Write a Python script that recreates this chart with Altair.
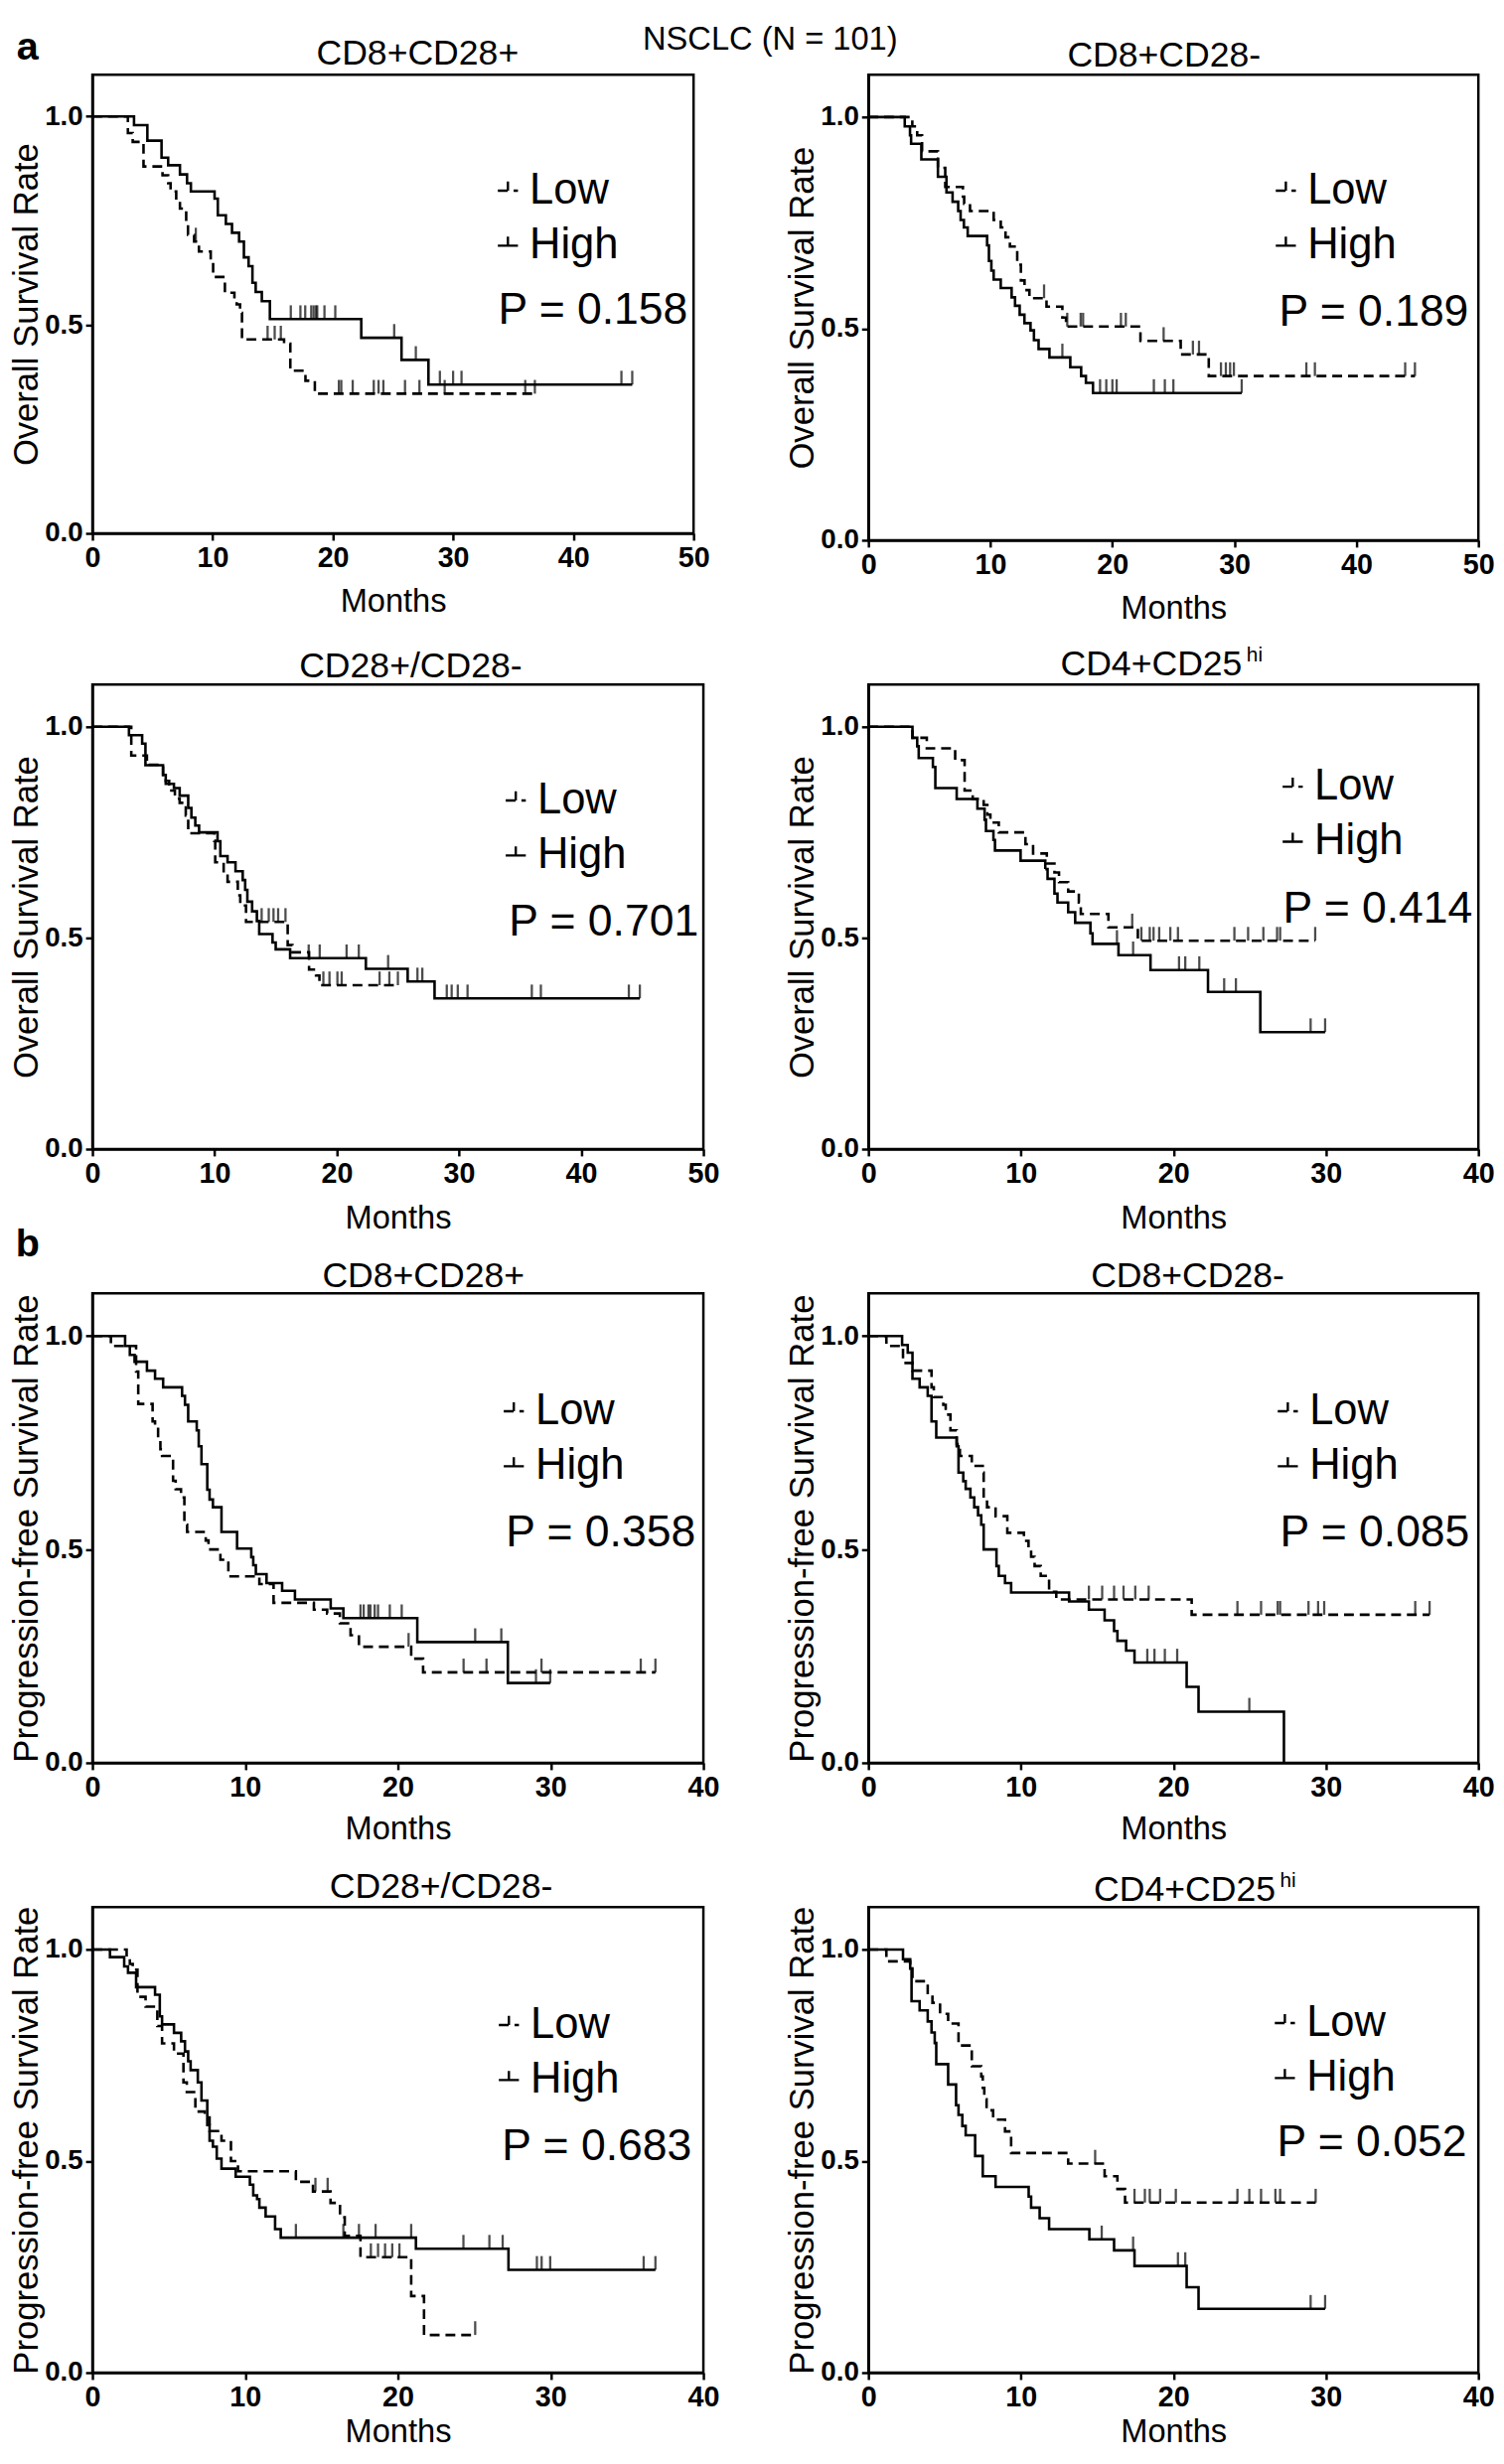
import altair as alt
import pandas as pd

# ---------------- data ----------------
FIGURE_TITLE = "NSCLC (N = 101)"
PANELS = ["a1", "a2", "a3", "a4", "b1", "b2", "b3", "b4"]
PANEL_TITLES = ["CD8+CD28+", "CD8+CD28-", "CD28+/CD28-", "CD4+CD25",
                "CD8+CD28+", "CD8+CD28-", "CD28+/CD28-", "CD4+CD25"]
TITLE_SUPERSCRIPTS = ["", "", "", "hi", "", "", "", "hi"]
SECTION_LABELS = ["a", "", "", "", "b", "", "", ""]
Y_TITLES = ["Overall Survival Rate"] * 4 + ["Progression-free Survival Rate"] * 4
X_TITLE = "Months"
X_MAX = [50, 50, 50, 40, 40, 40, 40, 40]
X_STEP = 10
Y_TICKS = [0.0, 0.5, 1.0]
P_VALUES = ["P = 0.158", "P = 0.189", "P = 0.701", "P = 0.414",
            "P = 0.358", "P = 0.085", "P = 0.683", "P = 0.052"]
GROUPS = ["Low", "High"]

# --- a: overall survival ---
A1_HIGH_T = [0, 3.46, 4.57, 5.75, 6.30, 7.28, 7.87, 8.19, 10.16, 10.43, 11.10, 11.61, 12.20, 12.60, 12.99,
             13.31, 13.58, 14.09, 14.76, 22.36, 25.71, 27.95, 44.9]
A1_HIGH_S = [1.0, 0.979, 0.942, 0.901, 0.883, 0.861, 0.840, 0.820, 0.803, 0.763, 0.742, 0.721, 0.700, 0.662, 0.641,
             0.601, 0.579, 0.557, 0.514, 0.469, 0.416, 0.357, 0.357]
A1_HIGH_C = [16.5, 17.3, 17.7, 18.2, 18.4, 18.6, 18.7, 19.3, 20.2, 25.1, 26.9, 28.9, 30.0, 30.7, 44.0, 44.9]
A1_LOW_T = [0, 2.95, 3.35, 4.25, 5.83, 6.30, 6.50, 6.97, 7.28, 7.80, 7.95, 8.46, 8.86, 9.84, 10.04, 11.02,
            11.81, 12.00, 12.28, 12.44, 15.94, 16.46, 17.72, 18.50, 36.8]
A1_LOW_S = [1.0, 0.960, 0.939, 0.880, 0.859, 0.840, 0.820, 0.798, 0.779, 0.742, 0.716, 0.700, 0.676, 0.653, 0.615,
            0.577, 0.563, 0.549, 0.529, 0.465, 0.455, 0.390, 0.366, 0.335, 0.335]
A1_LOW_C = [8.6, 14.57, 15.16, 15.67, 20.5, 20.7, 21.65, 23.4, 23.8, 24.2, 26.0, 27.2, 29.3, 36.0, 36.8]

A2_HIGH_T = [0, 2.98, 3.41, 3.50, 4.34, 5.70, 6.40, 6.90, 7.36, 7.56, 7.83, 8.14, 9.73, 9.88, 10.08, 10.27,
             10.85, 11.74, 12.02, 12.40, 12.79, 13.29, 13.57, 13.95, 14.84, 16.55, 17.44, 17.83, 18.41, 30.6]
A2_HIGH_S = [1.0, 0.978, 0.957, 0.937, 0.900, 0.859, 0.822, 0.800, 0.778, 0.757, 0.739, 0.719, 0.697, 0.660, 0.637,
             0.616, 0.596, 0.574, 0.554, 0.533, 0.513, 0.496, 0.473, 0.452, 0.432, 0.409, 0.388, 0.372, 0.348, 0.348]
A2_HIGH_C = [15.9, 18.99, 19.5, 20.0, 20.35, 23.4, 24.3, 25.0, 30.6]
A2_LOW_T = [0, 3.6, 4.0, 4.4, 5.7, 6.3, 7.75, 7.85, 8.33, 10.27, 10.85, 11.24, 11.6, 12.2, 12.5, 12.8,
            13.2, 14.6, 15.9, 16.2, 22.3, 25.6, 27.9, 44.8]
A2_LOW_S = [1.0, 0.978, 0.957, 0.919, 0.880, 0.835, 0.812, 0.795, 0.778, 0.757, 0.739, 0.716, 0.694, 0.651, 0.614,
            0.591, 0.572, 0.552, 0.526, 0.505, 0.471, 0.439, 0.388, 0.388]
A2_LOW_C = [14.4, 16.3, 17.4, 17.6, 20.7, 21.1, 24.2, 26.6, 27.1, 28.9, 29.3, 29.65, 29.96, 35.9, 36.6, 44.0, 44.8]

A3_HIGH_T = [0, 2.99, 4.07, 4.34, 5.78, 6.0, 6.67, 7.14, 7.84, 8.1, 8.42, 8.73, 10.24, 10.47, 11.06, 11.71,
             12.3, 12.5, 12.68, 13.07, 13.46, 13.65, 14.74, 15.0, 16.18, 22.38, 25.8, 28.0, 44.8]
A3_HIGH_S = [1.0, 0.98, 0.96, 0.909, 0.886, 0.865, 0.855, 0.837, 0.808, 0.785, 0.766, 0.75, 0.729, 0.694, 0.679,
             0.658, 0.637, 0.614, 0.586, 0.563, 0.54, 0.509, 0.489, 0.473, 0.452, 0.427, 0.397, 0.357, 0.357]
A3_HIGH_C = [17.7, 18.6, 20.8, 21.8, 24.2, 26.6, 27.0, 29.0, 29.4, 29.9, 30.7, 35.96, 36.7, 43.9, 44.8]
A3_LOW_T = [0, 3.18, 4.46, 5.78, 6.0, 6.28, 6.75, 7.14, 7.64, 7.84, 9.97, 10.05, 10.74, 11.06, 11.9, 12.1,
            12.57, 15.98, 16.37, 17.73, 18.3, 18.58, 25.0]
A3_LOW_S = [1.0, 0.932, 0.91, 0.886, 0.872, 0.849, 0.83, 0.82, 0.79, 0.748, 0.73, 0.679, 0.653, 0.633, 0.601,
            0.577, 0.538, 0.483, 0.466, 0.425, 0.411, 0.388, 0.388]
A3_LOW_C = [13.85, 14.43, 14.82, 15.2, 15.8, 18.9, 19.4, 20.05, 20.4, 23.5, 24.3, 25.0]

A4_HIGH_T = [0, 2.89, 3.2, 3.3, 4.23, 4.39, 5.79, 7.15, 7.62, 7.71, 8.2, 8.3, 9.98, 11.6, 11.75, 12.2, 12.4,
             13.1, 13.56, 14.56, 14.7, 16.4, 18.5, 22.27, 25.7, 29.95]
A4_HIGH_S = [1.0, 0.974, 0.954, 0.926, 0.905, 0.855, 0.829, 0.806, 0.78, 0.753, 0.732, 0.707, 0.683, 0.663, 0.64,
             0.605, 0.584, 0.561, 0.536, 0.511, 0.486, 0.459, 0.424, 0.372, 0.277, 0.277]
A4_HIGH_C = [16.3, 17.36, 20.37, 20.78, 21.7, 23.33, 24.1, 29.0, 29.95]
A4_LOW_T = [0, 2.89, 3.83, 5.69, 6.31, 6.84, 7.56, 7.8, 8.0, 8.55, 10.3, 10.8, 11.7, 12.2, 12.5, 13.1, 13.8,
            13.93, 15.74, 17.67, 29.3]
A4_LOW_S = [1.0, 0.974, 0.949, 0.921, 0.849, 0.829, 0.815, 0.792, 0.773, 0.75, 0.722, 0.70, 0.676, 0.655, 0.632,
            0.61, 0.584, 0.557, 0.525, 0.4935, 0.4935]
A4_LOW_C = [17.3, 17.9, 18.45, 18.7, 19.07, 19.8, 20.3, 24.0, 24.9, 25.9, 26.8, 27.0, 29.3]

# --- b: progression-free survival ---
B1_HIGH_T = [0, 2.14, 2.45, 2.76, 3.57, 4.10, 4.63, 5.87, 6.06, 6.27, 6.83, 6.96, 7.14, 7.52, 7.67, 7.89, 8.45,
             9.47, 10.40, 10.53, 10.70, 11.40, 12.42, 13.26, 15.60, 16.43, 21.27, 27.20, 29.97]
B1_HIGH_S = [1.0, 0.977, 0.956, 0.940, 0.919, 0.900, 0.880, 0.860, 0.839, 0.800, 0.779, 0.742, 0.700, 0.640, 0.617,
             0.599, 0.541, 0.502, 0.482, 0.463, 0.442, 0.421, 0.403, 0.383, 0.362, 0.339, 0.283, 0.187, 0.187]
B1_HIGH_C = [17.55, 17.76, 18.07, 18.2, 18.48, 18.7, 19.47, 20.25, 25.06, 26.77, 29.04, 29.97]
B1_LOW_T = [0, 1.21, 2.86, 3.0, 3.94, 4.1, 4.3, 4.45, 4.56, 5.28, 5.45, 5.8, 6.02, 6.2, 7.42, 7.6, 8.38, 8.9,
            10.93, 11.86, 14.5, 15.37, 16.2, 16.9, 17.45, 20.87, 21.65, 36.86]
B1_LOW_S = [1.0, 0.977, 0.917, 0.841, 0.80, 0.788, 0.76, 0.735, 0.719, 0.661, 0.641, 0.622, 0.558, 0.541, 0.521,
            0.50, 0.476, 0.437, 0.419, 0.375, 0.359, 0.35, 0.327, 0.299, 0.272, 0.244, 0.212, 0.212]
B1_LOW_C = [20.7, 24.3, 25.8, 29.4, 35.9, 36.86]

B2_HIGH_T = [0, 2.21, 2.58, 2.89, 3.36, 3.89, 4.14, 4.45, 5.79, 5.91, 6.22, 6.38, 6.69, 6.94, 7.19, 7.40, 7.56,
             8.40, 8.55, 8.96, 9.36, 13.16, 14.46, 15.49, 16.11, 16.33, 16.90, 17.45, 20.87, 21.65, 27.25]
B2_HIGH_S = [1.0, 0.979, 0.961, 0.900, 0.880, 0.860, 0.800, 0.762, 0.742, 0.680, 0.660, 0.642, 0.622, 0.599, 0.580,
             0.558, 0.500, 0.461, 0.438, 0.421, 0.399, 0.378, 0.359, 0.334, 0.309, 0.286, 0.263, 0.235, 0.178, 0.120, 0.0]
B2_HIGH_C = [18.29, 18.76, 19.44, 20.25, 24.98]
B2_LOW_T = [0, 1.18, 2.27, 2.89, 4.14, 4.29, 4.91, 5.07, 5.38, 5.79, 6.0, 6.78, 7.5, 7.56, 7.78, 8.34, 9.11,
            10.2, 10.5, 10.67, 10.9, 11.3, 11.85, 12.32, 21.2, 36.8]
B2_LOW_S = [1.0, 0.977, 0.937, 0.919, 0.88, 0.857, 0.839, 0.816, 0.779, 0.747, 0.719, 0.696, 0.68, 0.62, 0.599,
            0.578, 0.539, 0.52, 0.50, 0.483, 0.461, 0.438, 0.401, 0.383, 0.347, 0.347]
B2_LOW_C = [14.46, 15.33, 16.11, 16.73, 17.5, 18.38, 24.2, 25.75, 26.84, 27.0, 28.86, 29.49, 29.89, 35.86, 36.8]

B3_HIGH_T = [0, 1.15, 2.08, 2.33, 2.86, 4.10, 4.41, 4.56, 5.34, 5.81, 6.06, 6.27, 6.43, 6.90, 7.14, 7.52, 7.67,
             7.89, 8.14, 8.45, 9.38, 10.31, 10.53, 10.78, 10.93, 11.34, 11.96, 12.33, 21.18, 27.24, 36.86]
B3_HIGH_S = [1.0, 0.982, 0.96, 0.945, 0.911, 0.893, 0.842, 0.823, 0.803, 0.783, 0.759, 0.736, 0.715, 0.686, 0.643,
             0.585, 0.548, 0.534, 0.506, 0.482, 0.463, 0.444, 0.419, 0.41, 0.39, 0.369, 0.339, 0.319, 0.293, 0.243, 0.243]
B3_HIGH_C = [13.32, 16.43, 17.45, 18.54, 20.87, 24.29, 25.99, 26.86, 29.1, 29.41, 29.97, 36.09, 36.86]
B3_LOW_T = [0, 2.24, 2.45, 2.64, 2.95, 3.48, 4.25, 4.56, 5.34, 5.96, 6.18, 6.74, 7.36, 7.67, 8.45, 9.07, 9.53,
            13.32, 14.44, 15.59, 16.21, 16.52, 17.55, 20.87, 21.71, 25.06]
B3_LOW_S = [1.0, 0.98, 0.966, 0.952, 0.888, 0.865, 0.819, 0.778, 0.754, 0.686, 0.663, 0.617, 0.603, 0.571, 0.548,
            0.50, 0.476, 0.451, 0.428, 0.401, 0.367, 0.323, 0.273, 0.181, 0.089, 0.089]
B3_LOW_C = [14.6, 15.4, 18.23, 18.7, 19.16, 19.63, 20.1, 25.06]

B4_HIGH_T = [0, 2.27, 2.74, 2.83, 3.36, 3.89, 4.14, 4.35, 4.45, 5.23, 5.75, 5.91, 6.16, 6.38, 7.0, 7.5, 8.34,
             10.51, 10.67, 11.23, 11.85, 14.49, 16.11, 17.45, 20.87, 21.65, 29.95]
B4_HIGH_S = [1.0, 0.977, 0.955, 0.878, 0.856, 0.83, 0.804, 0.779, 0.729, 0.681, 0.632, 0.609, 0.583, 0.561, 0.512,
             0.464, 0.439, 0.416, 0.39, 0.365, 0.339, 0.315, 0.289, 0.252, 0.202, 0.151, 0.151]
B4_HIGH_C = [15.3, 17.36, 20.3, 20.78, 29.0, 29.95]
B4_LOW_T = [0, 1.18, 2.74, 2.89, 3.89, 4.2, 4.7, 5.23, 5.91, 6.78, 7.4, 7.5, 7.6, 7.75, 8.18, 8.96, 9.36, 13.1,
            15.49, 16.33, 16.83, 29.33]
B4_LOW_S = [1.0, 0.972, 0.955, 0.925, 0.894, 0.874, 0.848, 0.825, 0.773, 0.724, 0.70, 0.673, 0.646, 0.62, 0.598,
            0.57, 0.519, 0.494, 0.464, 0.434, 0.402, 0.402]
B4_LOW_C = [14.87, 17.45, 18.13, 18.45, 19.13, 20.16, 24.2, 24.98, 25.75, 26.69, 27.0, 29.33]

SERIES = {
    ("a1", "High"): (A1_HIGH_T, A1_HIGH_S, A1_HIGH_C), ("a1", "Low"): (A1_LOW_T, A1_LOW_S, A1_LOW_C),
    ("a2", "High"): (A2_HIGH_T, A2_HIGH_S, A2_HIGH_C), ("a2", "Low"): (A2_LOW_T, A2_LOW_S, A2_LOW_C),
    ("a3", "High"): (A3_HIGH_T, A3_HIGH_S, A3_HIGH_C), ("a3", "Low"): (A3_LOW_T, A3_LOW_S, A3_LOW_C),
    ("a4", "High"): (A4_HIGH_T, A4_HIGH_S, A4_HIGH_C), ("a4", "Low"): (A4_LOW_T, A4_LOW_S, A4_LOW_C),
    ("b1", "High"): (B1_HIGH_T, B1_HIGH_S, B1_HIGH_C), ("b1", "Low"): (B1_LOW_T, B1_LOW_S, B1_LOW_C),
    ("b2", "High"): (B2_HIGH_T, B2_HIGH_S, B2_HIGH_C), ("b2", "Low"): (B2_LOW_T, B2_LOW_S, B2_LOW_C),
    ("b3", "High"): (B3_HIGH_T, B3_HIGH_S, B3_HIGH_C), ("b3", "Low"): (B3_LOW_T, B3_LOW_S, B3_LOW_C),
    ("b4", "High"): (B4_HIGH_T, B4_HIGH_S, B4_HIGH_C), ("b4", "Low"): (B4_LOW_T, B4_LOW_S, B4_LOW_C),
}

# ---------------- layout (pixels, relative to each plot frame) ----------------
FONT = "Liberation Sans, Arial, Helvetica, sans-serif"
WIDTH = {"a1": 612, "a2": 621, "a3": 622, "a4": 621, "b1": 622, "b2": 621, "b3": 622, "b4": 621}
HEIGHT = {"a1": 467, "a2": 474, "a3": 473, "a4": 473, "b1": 478, "b2": 478, "b3": 474, "b4": 474}
TITLE_X = {"a1": 331, "a2": 301, "a3": 324, "a4": 288, "b1": 337, "b2": 325, "b3": 355, "b4": 322}
TITLE_Y = {"a1": -10, "a2": -8, "a3": -7, "a4": -9, "b1": -6, "b2": -6, "b3": -9, "b4": -6}
SUP_X = {"a4": 385, "b4": 419}
LEG_X = {"a1": 413, "a2": 415, "a3": 421, "a4": 422, "b1": 419, "b2": 417, "b3": 414, "b4": 414}
LEG_LOW_Y = {"a1": 118, "a2": 118, "a3": 118, "a4": 104, "b1": 120, "b2": 120, "b3": 120, "b4": 118}
P_X = {"a1": 413, "a2": 418, "a3": 424, "a4": 422, "b1": 421, "b2": 419, "b3": 417, "b4": 416}
P_Y = {"a1": 240, "a2": 242, "a3": 242, "a4": 228, "b1": 244, "b2": 244, "b3": 244, "b4": 240}
XTITLE_Y = {"a1": 79, "a2": 79, "a3": 80, "a4": 80, "b1": 77, "b2": 77, "b3": 70, "b4": 70}
LEG_FS = 44
LEGEND_SYMBOL = "M-1,0L1,0M0,0L0,-0.9"


def step_value(T, S, t):
    v = S[0]
    for ti, si in zip(T, S):
        if ti <= t + 1e-9:
            v = si
        else:
            break
    return v


def make_panel(i):
    pid = PANELS[i]
    w, h = WIDTH[pid], HEIGHT[pid]
    rows, cens = [], []
    for g in GROUPS:
        T, S, C = SERIES[(pid, g)]
        rows += [{"t": t, "s": s, "g": g} for t, s in zip(T, S)]
        cens += [{"t": c, "s": step_value(T, S, c), "g": g} for c in C]

    xs = alt.Scale(domain=[0, X_MAX[i]], nice=False, zero=True)
    ys = alt.Scale(domain=[0, 1.1], nice=False, zero=True)
    xax = alt.Axis(values=list(range(0, X_MAX[i] + 1, X_STEP)), title=X_TITLE,
                   titleX=w / 2, titleY=XTITLE_Y[pid], titleAlign="center", titleBaseline="alphabetic",
                   labelFlush=False, labelOverlap=False)
    yax = alt.Axis(values=Y_TICKS, format=".1f", title=Y_TITLES[i],
                   titleX=-56, titleY=h / 2, titleAngle=270, titleAlign="center",
                   titleBaseline="alphabetic", labelFlush=False, labelOverlap=False)
    X = alt.X("t:Q", scale=xs, axis=xax)
    Y = alt.Y("s:Q", scale=ys, axis=yax)

    dash = alt.StrokeDash(
        "g:N",
        scale=alt.Scale(domain=GROUPS, range=[[10, 6], [1, 0]]),
        legend=alt.Legend(orient="none", legendX=LEG_X[pid] - 12, legendY=LEG_LOW_Y[pid] - LEG_FS / 2,
                          title=None, labelFont=FONT, labelFontSize=LEG_FS, labelColor="black",
                          symbolType=LEGEND_SYMBOL, symbolSize=420, symbolStrokeWidth=2.4,
                          symbolStrokeColor="black", symbolFillColor="transparent",
                          rowPadding=12, labelOffset=0, padding=0),
    )

    lines = alt.Chart(pd.DataFrame(rows)).mark_line(
        interpolate="step-after", color="black", strokeWidth=2.6
    ).encode(x=X, y=Y, strokeDash=dash)

    ticks = alt.Chart(pd.DataFrame(cens)).mark_tick(
        orient="vertical", color="black", size=14, thickness=2.3, yOffset=-7
    ).encode(x=X, y=Y)

    ptxt = alt.Chart(pd.DataFrame({"label": [P_VALUES[i]]})).mark_text(
        align="left", baseline="middle", font=FONT, fontSize=45, color="black"
    ).encode(x=alt.value(P_X[pid]), y=alt.value(P_Y[pid]), text="label:N")

    layers = [lines, ticks, ptxt]

    ttl = alt.Chart(pd.DataFrame({"label": [PANEL_TITLES[i]]})).mark_text(
        align="center", baseline="alphabetic", font=FONT, fontSize=36, color="black"
    ).encode(x=alt.value(TITLE_X[pid]), y=alt.value(TITLE_Y[pid]), text="label:N")
    layers.append(ttl)

    if TITLE_SUPERSCRIPTS[i]:
        sup = alt.Chart(pd.DataFrame({"label": [TITLE_SUPERSCRIPTS[i]]})).mark_text(
            align="left", baseline="alphabetic", font=FONT, fontSize=21, color="black"
        ).encode(x=alt.value(SUP_X[pid]), y=alt.value(TITLE_Y[pid] - 15), text="label:N")
        layers.append(sup)

    if SECTION_LABELS[i]:
        sy = -27 if SECTION_LABELS[i] == "a" else -50
        sec = alt.Chart(pd.DataFrame({"label": [SECTION_LABELS[i]]})).mark_text(
            align="center", baseline="middle", font=FONT, fontSize=40, fontWeight="bold", color="black"
        ).encode(x=alt.value(-66), y=alt.value(sy), text="label:N")
        layers.append(sec)

    if pid == "a1":
        ft = alt.Chart(pd.DataFrame({"label": [FIGURE_TITLE]})).mark_text(
            align="center", baseline="middle", font=FONT, fontSize=33, color="black"
        ).encode(x=alt.value(690), y=alt.value(-36), text="label:N")
        layers.append(ft)

    return alt.layer(*layers).properties(width=w, height=h)


panels = [make_panel(i) for i in range(len(PANELS))]

chart = alt.concat(
    *panels, columns=2, spacing={"row": 147, "column": 168}, bounds="flush", align="each"
).resolve_scale(strokeDash="independent").properties(
    padding=0, background="white"
).configure_view(
    stroke="black", strokeWidth=2.5
).configure_axis(
    grid=False, domainColor="black", domainWidth=2.5, tickColor="black", tickWidth=2.5, tickSize=7,
    labelFont=FONT, labelFontWeight="bold", labelColor="black",
    titleFont=FONT, titleFontWeight="normal", titleColor="black",
).configure_axisX(
    titleFontSize=33, labelPadding=4, labelFontSize=29
).configure_axisY(
    titleFontSize=35, labelPadding=3, labelFontSize=28
)

chart.save("out.html", embed_options={"renderer": "svg", "actions": False})
